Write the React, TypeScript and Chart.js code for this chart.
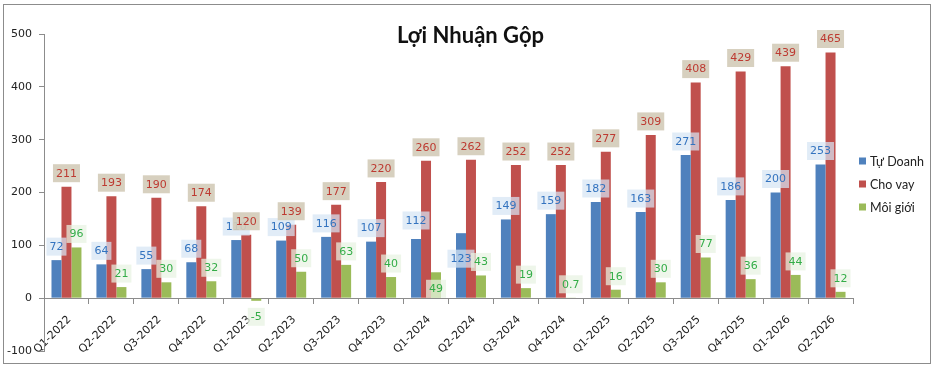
import { useEffect, useRef } from "react";
import { Chart, registerables } from "chart.js";

Chart.register(...registerables);

// Quarterly gross profit by business line
const quarters = [
  "Q1-2022", "Q2-2022", "Q3-2022", "Q4-2022",
  "Q1-2023", "Q2-2023", "Q3-2023", "Q4-2023",
  "Q1-2024", "Q2-2024", "Q3-2024", "Q4-2024",
  "Q1-2025", "Q2-2025", "Q3-2025", "Q4-2025",
  "Q1-2026", "Q2-2026",
];
const tuDoanh = [72, 64, 55, 68, 110, 109, 116, 107, 112, 123, 149, 159, 182, 163, 271, 186, 200, 253];
const choVay = [211, 193, 190, 174, 120, 139, 177, 220, 260, 262, 252, 252, 277, 309, 408, 429, 439, 465];
const moiGioi = [96, 21, 30, 32, -5, 50, 63, 40, 49, 43, 19, 0.7, 16, 30, 77, 36, 44, 12];

const seriesNames = ["Tự Doanh", "Cho vay", "Môi giới"];
const barColors = ["#4f81bd", "#c0504d", "#9bbb59"];
const yMin = -100;
const yMax = 500;
const yStep = 100;

const TITLE = "Lợi Nhuận Gộp";
const AXIS_GREY = "#8c8c8c";
const TEXT_DARK = "#222222";
const NUM_FONT = "'DejaVu Sans', Verdana, sans-serif";

// value label look per series
const labelStyles = [
  { text: "#3373bf", bg: "rgba(213,229,244,0.72)" },
  { text: "#bd3a31", bg: "rgba(212,204,186,0.92)" },
  { text: "#34ad48", bg: "rgba(232,243,226,0.72)" },
];
// hand-placed labels that sit away from their default spot (pixels, +down)
const labelNudge: Record<string, number> = { "0-8": -5, "0-9": 39, "2-8": 30 };

const framePlugin = {
  id: "frame",
  beforeDraw(chart: any) {
    const { ctx, width, height } = chart;
    ctx.save();
    ctx.fillStyle = "#ffffff";
    ctx.fillRect(0, 0, width, height);
    ctx.strokeStyle = AXIS_GREY;
    ctx.lineWidth = 1;
    ctx.strokeRect(3.5, 4.5, width - 8, height - 10);
    ctx.restore();
  },
  afterDraw(chart: any) {
    const { ctx, chartArea } = chart;
    ctx.save();
    // title
    ctx.fillStyle = "#111111";
    ctx.font = "bold 22px Lato, 'Open Sans', sans-serif";
    ctx.textAlign = "center";
    ctx.textBaseline = "alphabetic";
    ctx.fillText(TITLE, (chartArea.left + chartArea.right) / 2 + 22, 43);

    // legend
    ctx.font = "12.5px Lato, 'Open Sans', sans-serif";
    ctx.textAlign = "left";
    ctx.textBaseline = "middle";
    const lx = chartArea.right + 6;
    const ly0 = 161;
    seriesNames.forEach((name, i) => {
      const cy = ly0 + i * 23;
      ctx.fillStyle = barColors[i];
      ctx.fillRect(lx, cy - 3.5, 7, 7);
      ctx.fillStyle = TEXT_DARK;
      ctx.fillText(name, lx + 11, cy + 1);
    });
    ctx.restore();
  },
};

const valueLabelPlugin = {
  id: "valueLabels",
  afterDatasetsDraw(chart: any) {
    const { ctx } = chart;
    ctx.save();
    ctx.font = `11px ${NUM_FONT}`;
    ctx.textAlign = "center";
    ctx.textBaseline = "middle";
    chart.data.datasets.forEach((ds: any, i: number) => {
      const meta = chart.getDatasetMeta(i);
      meta.data.forEach((el: any, j: number) => {
        const v = ds.data[j] as number;
        const txt = String(v);
        let cy = v >= 0 ? el.y - 13.5 : el.y + 16;
        cy += labelNudge[`${i}-${j}`] || 0;
        const w = ctx.measureText(txt).width + 6;
        const h = 18;
        ctx.fillStyle = labelStyles[i].bg;
        ctx.fillRect(el.x - w / 2, cy - h / 2, w, h);
        ctx.fillStyle = labelStyles[i].text;
        ctx.fillText(txt, el.x, cy + 0.5);
      });
    });
    ctx.restore();
  },
};

export default function App() {
  const canvasRef = useRef<HTMLCanvasElement | null>(null);

  useEffect(() => {
    if (!canvasRef.current) return;
    const chart = new Chart(canvasRef.current, {
      type: "bar",
      data: {
        labels: quarters,
        datasets: [tuDoanh, choVay, moiGioi].map((d, i) => ({
          label: seriesNames[i],
          data: d,
          backgroundColor: barColors[i],
          borderWidth: 0,
          categoryPercentage: 0.667,
          barPercentage: 1.0,
        })),
      },
      options: {
        responsive: false,
        animation: false,
        layout: { padding: { left: 0, top: 34, right: 82, bottom: 18 } },
        plugins: {
          legend: { display: false },
          title: { display: false },
          tooltip: { enabled: false },
        },
        scales: {
          x: {
            position: { y: 0 } as any,
            offset: true,
            grid: {
              display: true,
              drawOnChartArea: false,
              drawTicks: true,
              tickLength: 5,
              color: AXIS_GREY,
              offset: true,
            },
            border: { display: true, color: AXIS_GREY },
            ticks: {
              autoSkip: false,
              minRotation: 45,
              maxRotation: 45,
              padding: 10,
              labelOffset: 3,
              color: TEXT_DARK,
              font: { family: NUM_FONT, size: 11 },
            },
          },
          y: {
            min: yMin,
            max: yMax,
            grid: {
              display: true,
              drawOnChartArea: false,
              drawTicks: true,
              tickLength: 5,
              color: AXIS_GREY,
            },
            border: { display: true, color: AXIS_GREY },
            ticks: {
              stepSize: yStep,
              padding: 7,
              color: TEXT_DARK,
              font: { family: NUM_FONT, size: 11 },
            },
            afterFit(scale: any) {
              scale.width = 44;
            },
          },
        },
      },
      plugins: [framePlugin, valueLabelPlugin],
    });
    return () => chart.destroy();
  }, []);

  return (
    <div style={{ position: "fixed", left: 0, top: 0, width: 935, height: 369, background: "#fff" }}>
      <canvas ref={canvasRef} width={935} height={369} style={{ display: "block" }} />
    </div>
  );
}
